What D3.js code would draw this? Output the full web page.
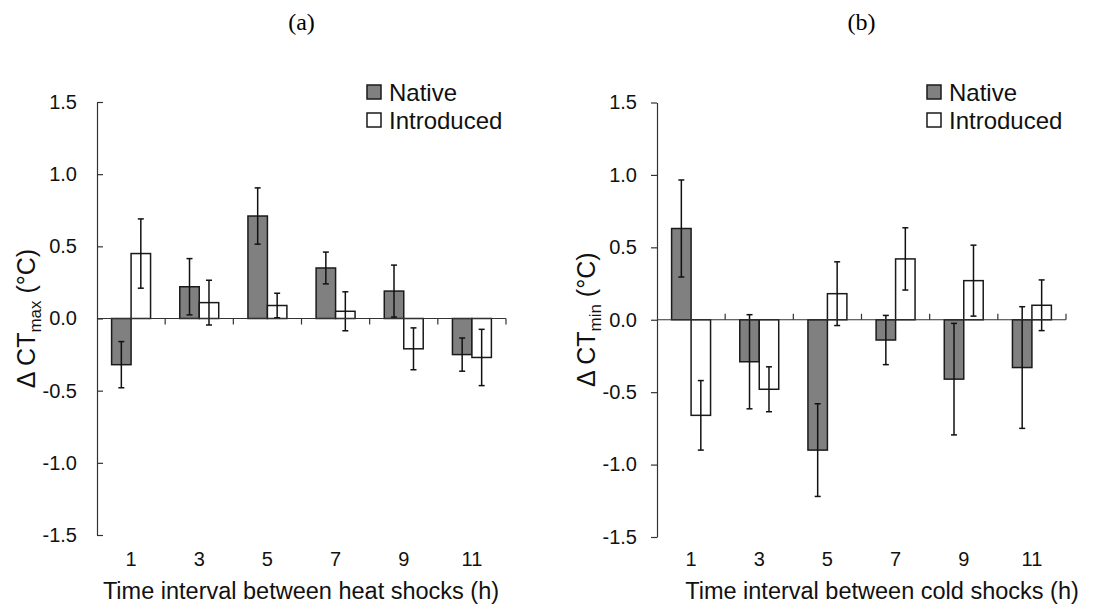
<!DOCTYPE html>
<html>
<head>
<meta charset="utf-8">
<script src="https://cdn.jsdelivr.net/npm/d3@7"></script>
<style>
  body { margin: 0; background: #fff; }
  svg { display: block; font-family: "Liberation Sans", Arial, sans-serif; }
</style>
</head>
<body>
<svg id="chart" width="1095" height="605"></svg>
<script>
// Categories (time interval between shocks, h)
const intervals = ["1", "3", "5", "7", "9", "11"];
const series = ["Native", "Introduced"];
const yTicks = [-1.5, -1.0, -0.5, 0.0, 0.5, 1.0, 1.5];

// Heat shocks: mean change in CTmax and error
const heatNative = [-0.32, 0.22, 0.71, 0.35, 0.19, -0.25];
const heatNativeErr = [0.16, 0.195, 0.195, 0.11, 0.18, 0.115];
const heatIntro = [0.45, 0.11, 0.09, 0.05, -0.21, -0.27];
const heatIntroErr = [0.24, 0.155, 0.085, 0.135, 0.145, 0.195];

// Cold shocks: mean change in CTmin and error
const coldNative = [0.63, -0.29, -0.9, -0.14, -0.41, -0.33];
const coldNativeErr = [0.335, 0.325, 0.32, 0.17, 0.385, 0.42];
const coldIntro = [-0.66, -0.48, 0.18, 0.42, 0.27, 0.1];
const coldIntroErr = [0.24, 0.155, 0.22, 0.215, 0.245, 0.175];

const colors = { Native: "#808080", Introduced: "#ffffff" };

const svg = d3.select("#chart");

function create_panel(opts) {
  const g = svg.append("g");

  // rows for the bars
  const rows = [];
  intervals.forEach((t, i) => {
    rows.push({ t, s: "Native", v: opts.native[i], e: opts.nativeErr[i] });
    rows.push({ t, s: "Introduced", v: opts.intro[i], e: opts.introErr[i] });
  });

  const x0 = d3
    .scaleBand()
    .domain(intervals)
    .range([opts.left, opts.right])
    .padding(0);

  const x1 = d3
    .scaleBand()
    .domain(series)
    .range([0, x0.bandwidth()])
    .paddingInner(0)
    .paddingOuter(0.75);

  const y = d3.scaleLinear().domain([-1.5, 1.5]).range([opts.bottom, opts.top]);

  // Panel title
  g.append("text")
    .attr("x", (opts.left + opts.right) / 2)
    .attr("y", 30)
    .attr("text-anchor", "middle")
    .style("font-family", "'Liberation Serif', 'Times New Roman', serif")
    .style("font-size", "24px")
    .text(opts.title);

  // y axis
  const yAxis = g
    .append("g")
    .attr("transform", `translate(${opts.left},0)`)
    .call(
      d3.axisLeft(y)
        .tickValues(yTicks)
        .tickFormat(d3.format(".1f"))
        .tickSizeInner(opts.yTickIn ? -6 : 6)
        .tickSizeOuter(0)
        .tickPadding(opts.yTickIn ? 20 : 14)
    );
  yAxis.select(".domain").attr("stroke", "#333").attr("stroke-width", 1.2);
  yAxis.selectAll(".tick line").attr("stroke", "#333").attr("stroke-width", 1.2);
  yAxis
    .selectAll(".tick text")
    .style("font-family", "'Liberation Sans', Arial, sans-serif")
    .style("font-size", "20px")
    .attr("fill", "#111")
    .text((d) => (d === 0 ? "0.0" : d3.format(".1f")(d)).replace("−", "-"));

  // y axis label
  const yl = g
    .append("text")
    .attr("transform", `translate(${opts.left - 62}, ${y(0)}) rotate(-90)`)
    .attr("text-anchor", "middle")
    .style("font-size", "25px")
    .attr("fill", "#111");
  yl.append("tspan").text("\u0394 CT");
  yl.append("tspan").attr("dy", 6).style("font-size", "17px").text(opts.sub);
  yl.append("tspan").attr("dy", -6).text(" (\u00b0C)");

  // bars
  const bars = g
    .append("g")
    .selectAll("rect")
    .data(rows)
    .join("rect")
    .attr("x", (d) => x0(d.t) + x1(d.s))
    .attr("y", (d) => y(Math.max(0, d.v)))
    .attr("width", x1.bandwidth())
    .attr("height", (d) => Math.abs(y(d.v) - y(0)))
    .style("fill", (d) => colors[d.s])
    .attr("stroke", "#1a1a1a")
    .attr("stroke-width", 1.5);

  // error bars
  const err = g.append("g").selectAll("g").data(rows).join("g");
  const cx = (d) => x0(d.t) + x1(d.s) + x1.bandwidth() / 2;
  err
    .append("line")
    .attr("x1", cx)
    .attr("x2", cx)
    .attr("y1", (d) => y(d.v + d.e))
    .attr("y2", (d) => y(d.v - d.e))
    .attr("stroke", "#111")
    .attr("stroke-width", 1.5);
  [1, -1].forEach((sgn) => {
    err
      .append("line")
      .attr("x1", (d) => cx(d) - 3)
      .attr("x2", (d) => cx(d) + 3)
      .attr("y1", (d) => y(d.v + sgn * d.e))
      .attr("y2", (d) => y(d.v + sgn * d.e))
      .attr("stroke", "#111")
      .attr("stroke-width", 1.5);
  });

  // x axis on zero line, ticks at band edges
  const zx = g.append("g");
  zx.append("line")
    .attr("x1", opts.left)
    .attr("x2", opts.right)
    .attr("y1", y(0))
    .attr("y2", y(0))
    .attr("stroke", "#333")
    .attr("stroke-width", 1.2);
  zx.selectAll(".xt")
    .data(intervals)
    .join("line")
    .attr("class", "xt")
    .attr("x1", (d) => x0(d) + x0.bandwidth())
    .attr("x2", (d) => x0(d) + x0.bandwidth())
    .attr("y1", y(0))
    .attr("y2", y(0) + (opts.xTickDown ? 6 : -6))
    .attr("stroke", "#333")
    .attr("stroke-width", 1.2);

  // category labels
  g.append("g")
    .selectAll("text")
    .data(intervals)
    .join("text")
    .attr("x", (d) => x0(d) + x0.bandwidth() / 2)
    .attr("y", 566)
    .attr("text-anchor", "middle")
    .style("font-size", "20px")
    .attr("fill", "#111")
    .text((d) => d);

  // x axis label
  g.append("text")
    .attr("x", opts.xTitleX)
    .attr("y", 599)
    .attr("text-anchor", "middle")
    .style("font-size", "23.5px")
    .attr("fill", "#111")
    .text(opts.xTitle);

  // legend
  const leg = g
    .append("g")
    .selectAll("g")
    .data(series)
    .join("g")
    .attr("transform", (d, i) => `translate(${opts.left + 270}, ${85 + i * 28})`);
  leg
    .append("rect")
    .attr("width", 14)
    .attr("height", 14)
    .style("fill", (d) => colors[d])
    .attr("stroke", "#1a1a1a")
    .attr("stroke-width", 1.5);
  leg
    .append("text")
    .attr("x", 22)
    .attr("y", 15.5)
    .style("font-size", "24px")
    .attr("fill", "#111")
    .text((d) => d);
}

create_panel({
  title: "(a)",
  left: 97,
  right: 506,
  top: 102,
  bottom: 535,
  native: heatNative,
  nativeErr: heatNativeErr,
  intro: heatIntro,
  introErr: heatIntroErr,
  sub: "max",
  xTitle: "Time interval between heat shocks (h)",
  xTitleX: 301,
  yTickIn: true,
  xTickDown: true,
});

create_panel({
  title: "(b)",
  left: 657,
  right: 1066,
  top: 102.5,
  bottom: 537,
  native: coldNative,
  nativeErr: coldNativeErr,
  intro: coldIntro,
  introErr: coldIntroErr,
  sub: "min",
  xTitle: "Time interval between cold shocks (h)",
  xTitleX: 882,
  yTickIn: false,
  xTickDown: false,
});
</script>
</body>
</html>
